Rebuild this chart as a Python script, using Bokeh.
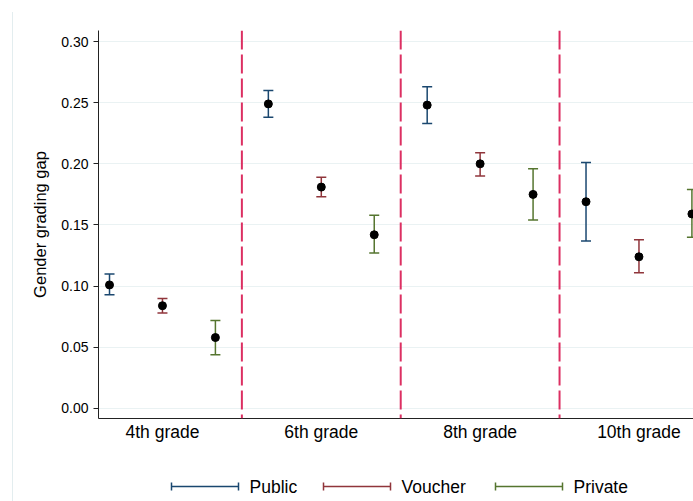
from bokeh.plotting import figure
from bokeh.layouts import column
from bokeh.models import (Range1d, FixedTicker, Span, Whisker, TeeHead,
                          ColumnDataSource, NumeralTickFormatter)
from bokeh.core.properties import value
from bokeh.embed import file_html
from bokeh.resources import INLINE

# Gender grading gap by grade and school type (point estimate + CI)
grades = ["4th grade", "6th grade", "8th grade", "10th grade"]
series = ["Public", "Voucher", "Private"]
colors = ["#1a476f", "#90353b", "#55752f"]

public_est = [0.101, 0.249, 0.248, 0.169]
public_lo = [0.093, 0.238, 0.233, 0.137]
public_hi = [0.110, 0.260, 0.263, 0.201]

voucher_est = [0.084, 0.181, 0.200, 0.124]
voucher_lo = [0.078, 0.173, 0.190, 0.111]
voucher_hi = [0.090, 0.189, 0.209, 0.138]

private_est = [0.058, 0.142, 0.175, 0.159]
private_lo = [0.044, 0.127, 0.154, 0.140]
private_hi = [0.072, 0.158, 0.196, 0.179]

y_ticks = [0.00, 0.05, 0.10, 0.15, 0.20, 0.25, 0.30]

FONT = "Liberation Sans"
n_series = len(series)

p = figure(width=693, height=455, output_backend="svg", toolbar_location=None,
           x_range=Range1d(0.792, 12.03), y_range=Range1d(-0.0082, 0.309),
           min_border_left=98, min_border_right=0, min_border_top=30,
           min_border_bottom=37)
p.outline_line_color = None
p.border_fill_alpha = 0
p.background_fill_color = "white"
p.xgrid.grid_line_color = None
p.ygrid.grid_line_color = "#eaf2f3"
p.ygrid.grid_line_width = 1

# y axis
p.yaxis.ticker = FixedTicker(ticks=y_ticks)
p.yaxis.formatter = NumeralTickFormatter(format="0.00")
p.yaxis.axis_label = "Gender grading gap"
p.yaxis.axis_label_text_font = FONT
p.yaxis.axis_label_text_font_size = "16.5px"
p.yaxis.axis_label_text_font_style = "normal"
p.yaxis.axis_label_text_color = "#000000"
p.yaxis.axis_label_standoff = 9
p.yaxis.major_label_text_font = FONT
p.yaxis.major_label_text_font_size = "14px"
p.yaxis.major_label_text_color = "#000000"
p.yaxis.major_label_standoff = 5
p.yaxis.major_tick_out = 5
p.yaxis.major_tick_in = 0
p.yaxis.minor_tick_line_color = None
p.yaxis.axis_line_color = "#222222"
p.yaxis.major_tick_line_color = "#222222"

# x axis: one label per grade, centred on its three estimates
p.xaxis.ticker = FixedTicker(ticks=[n_series * g + 2 for g in range(len(grades))])
p.xaxis.major_label_overrides = {n_series * g + 2: lab for g, lab in enumerate(grades)}
p.xaxis.major_label_text_font = FONT
p.xaxis.major_label_text_font_size = "17.5px"
p.xaxis.major_label_text_color = "#000000"
p.xaxis.major_tick_out = 0
p.xaxis.major_tick_in = 0
p.xaxis.minor_tick_line_color = None
p.xaxis.major_label_standoff = 3
p.xaxis.axis_line_color = "#222222"

# dashed separators between grades
for g in range(1, len(grades)):
    p.add_layout(Span(location=n_series * g + 0.5, dimension="height",
                      line_color="#dc2f62", line_width=2, line_dash="19 5"))

est = [public_est, voucher_est, private_est]
lo = [public_lo, voucher_lo, private_lo]
hi = [public_hi, voucher_hi, private_hi]

for s in range(n_series):
    xs = [n_series * g + s + 1 for g in range(len(grades))]
    src = ColumnDataSource(dict(x=xs, est=est[s], lo=lo[s], hi=hi[s]))
    p.add_layout(Whisker(base="x", lower="lo", upper="hi", source=src,
                         line_color=colors[s], line_width=1.5,
                         upper_head=TeeHead(size=10, line_color=colors[s], line_width=1.5),
                         lower_head=TeeHead(size=10, line_color=colors[s], line_width=1.5)))
    p.scatter("x", "est", source=src, size=8, color="black")

# legend strip below the chart; its frame lines up with the chart's frame,
# so the x range is given in page pixels from the frame's left edge
leg = figure(width=693, height=46, output_backend="svg", toolbar_location=None,
             x_range=Range1d(98, 693), y_range=Range1d(46, 0),
             min_border_left=98, min_border_right=0, min_border_top=0,
             min_border_bottom=0)
leg.axis.visible = False
leg.grid.visible = False
leg.outline_line_color = None
leg.background_fill_alpha = 0
leg.border_fill_alpha = 0

key_starts = [171, 323, 495]
key_len = 67
key_y = 31
for s, name in enumerate(series):
    x0 = key_starts[s]
    x1 = x0 + key_len
    leg.segment(x0=[x0], y0=[key_y], x1=[x1], y1=[key_y], line_color=colors[s], line_width=1.5)
    leg.segment(x0=[x0, x1], y0=[key_y - 4, key_y - 4], x1=[x0, x1], y1=[key_y + 4, key_y + 4],
                line_color=colors[s], line_width=1.5)
    leg.text(x=[x1 + 11], y=[key_y], text=[name], text_font=value(FONT),
             text_font_size="17.5px", text_baseline="middle", text_align="left",
             text_color="#000000")

layout = column(p, leg, spacing=0, styles={
    "background": "linear-gradient(#e3edef, #e3edef) 12px 12px / 1px calc(100% - 12px) no-repeat, #ffffff"
})

open("out.html", "w").write(file_html(layout, INLINE))
